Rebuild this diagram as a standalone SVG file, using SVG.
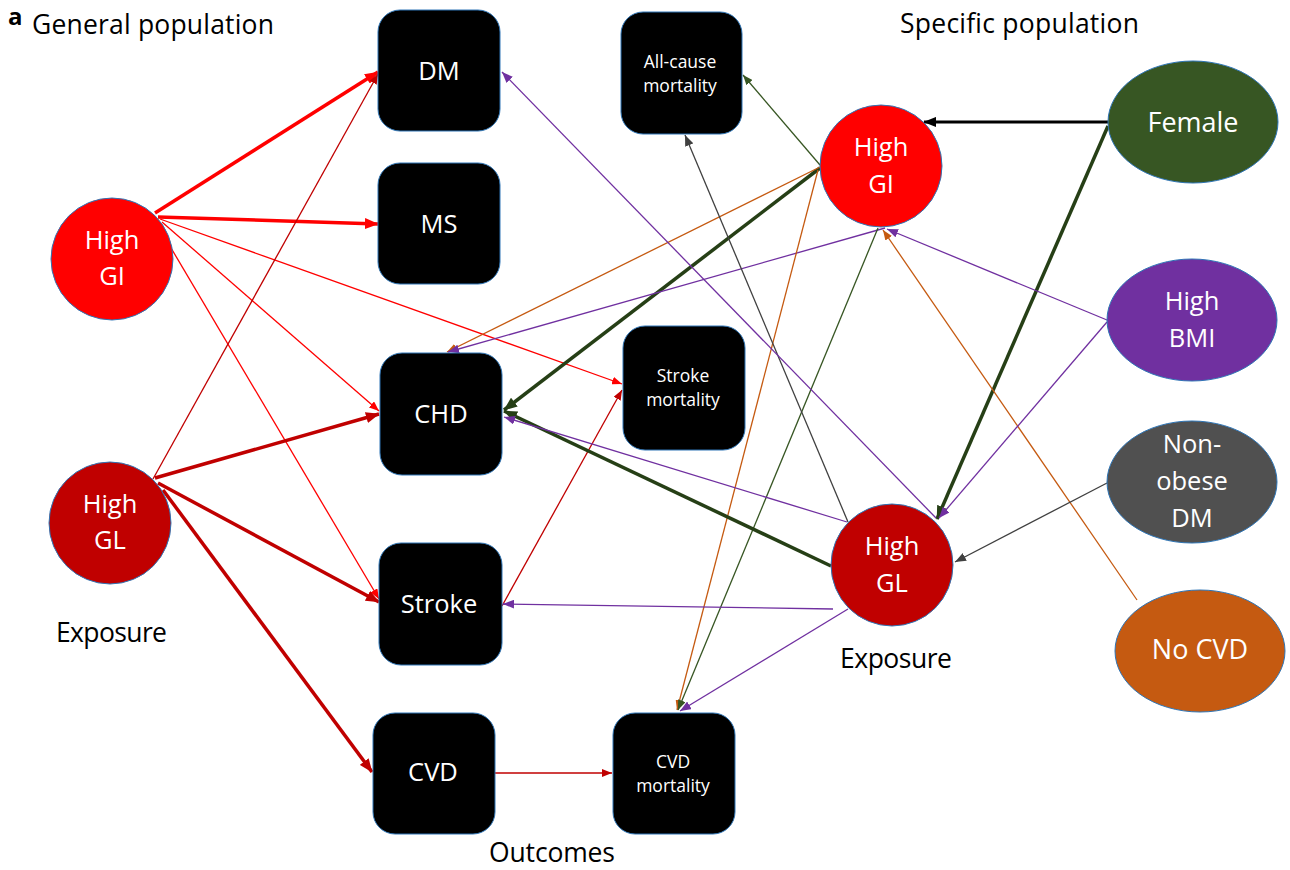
<svg xmlns="http://www.w3.org/2000/svg" width="1290" height="870" viewBox="0 0 1290 870">
<style>
text{font-family:"Open Sans","Liberation Sans",sans-serif}
.title{font-size:26.5px;fill:#000}
.box{fill:#000;stroke:#2E75B6;stroke-width:1}
.node{stroke:#2E75B6;stroke-width:1}
.lbl{fill:#fff;font-size:25.5px;text-anchor:middle}
.sm{fill:#fff;font-size:17.5px;text-anchor:middle}
.cl{fill:#fff;font-size:25.5px;text-anchor:middle}
.c line{fill:none}
.thick{stroke-width:3.5}
.thin{stroke-width:1.3}
.red{stroke:#FF0000}
.dred{stroke:#C00000}
.grn{stroke:#375623}
.grnT{stroke:#263F16}
.pur{stroke:#7030A0}
.org{stroke:#C55A11}
.gry{stroke:#404040}
.blk{stroke:#000}
</style>
<defs>
<marker id="mRedT" viewBox="0 0 10 8" refX="9.5" refY="4" markerUnits="userSpaceOnUse" markerWidth="14" markerHeight="11" orient="auto"><path d="M0,0 L10,4 L0,8 z" fill="#FF0000"/></marker>
<marker id="mRed" viewBox="0 0 10 8" refX="10" refY="4" markerUnits="userSpaceOnUse" markerWidth="10" markerHeight="8" orient="auto"><path d="M0,0 L10,4 L0,8 z" fill="#FF0000"/></marker>
<marker id="mDRedT" viewBox="0 0 10 8" refX="9.5" refY="4" markerUnits="userSpaceOnUse" markerWidth="14" markerHeight="11" orient="auto"><path d="M0,0 L10,4 L0,8 z" fill="#C00000"/></marker>
<marker id="mDRed" viewBox="0 0 10 8" refX="10" refY="4" markerUnits="userSpaceOnUse" markerWidth="10" markerHeight="8" orient="auto"><path d="M0,0 L10,4 L0,8 z" fill="#C00000"/></marker>
<marker id="mGrnT" viewBox="0 0 10 8" refX="9.5" refY="4" markerUnits="userSpaceOnUse" markerWidth="14" markerHeight="11" orient="auto"><path d="M0,0 L10,4 L0,8 z" fill="#263F16"/></marker>
<marker id="mGrn" viewBox="0 0 10 8" refX="10" refY="4" markerUnits="userSpaceOnUse" markerWidth="10" markerHeight="8" orient="auto"><path d="M0,0 L10,4 L0,8 z" fill="#375623"/></marker>
<marker id="mPur" viewBox="0 0 10 8" refX="10" refY="4" markerUnits="userSpaceOnUse" markerWidth="11" markerHeight="9" orient="auto"><path d="M0,0 L10,4 L0,8 z" fill="#7030A0"/></marker>
<marker id="mOrg" viewBox="0 0 10 8" refX="10" refY="4" markerUnits="userSpaceOnUse" markerWidth="10" markerHeight="8" orient="auto"><path d="M0,0 L10,4 L0,8 z" fill="#C55A11"/></marker>
<marker id="mGry" viewBox="0 0 10 8" refX="10" refY="4" markerUnits="userSpaceOnUse" markerWidth="11" markerHeight="9" orient="auto"><path d="M0,0 L10,4 L0,8 z" fill="#404040"/></marker>
<marker id="mBlk" viewBox="0 0 10 8" refX="9.5" refY="4" markerUnits="userSpaceOnUse" markerWidth="13" markerHeight="11" orient="auto"><path d="M0,0 L10,4 L0,8 z" fill="#000"/></marker>
</defs>
<rect width="1290" height="870" fill="#fff"/>

<g id="titles">
<text x="8" y="25" style="font-size:24px;font-weight:bold">a</text>
<text class="title" x="32" y="34" textLength="242">General population</text>
<text class="title" x="900" y="33" textLength="239">Specific population</text>
<text class="title" x="56" y="642" textLength="111">Exposure</text>
<text class="title" x="840" y="668" textLength="112">Exposure</text>
<text class="title" x="489" y="862" textLength="126">Outcomes</text>
</g>

<g id="connectors" class="c">
<line class="thick red" x1="155" y1="213" x2="378" y2="72" marker-end="url(#mRedT)"/>
<line class="thick red" x1="158" y1="217" x2="378" y2="224" marker-end="url(#mRedT)"/>
<line class="thin red" x1="160" y1="219" x2="622" y2="384" marker-end="url(#mRed)"/>
<line class="thin red" x1="162" y1="222" x2="379" y2="411" marker-end="url(#mRed)"/>
<line class="thin red" x1="158" y1="226" x2="379" y2="599" marker-end="url(#mRed)"/>
<line class="thin dred" x1="153" y1="479" x2="378" y2="74" marker-end="url(#mDRed)"/>
<line class="thick dred" x1="155" y1="478" x2="379" y2="414" marker-end="url(#mDRedT)"/>
<line class="thick dred" x1="158" y1="483" x2="379" y2="602" marker-end="url(#mDRedT)"/>
<line class="thick dred" x1="163" y1="490" x2="372" y2="772" marker-end="url(#mDRedT)"/>
<line class="thin dred" x1="502" y1="606" x2="622" y2="390" marker-end="url(#mDRed)"/>
<line class="thin dred" x1="495" y1="773" x2="612" y2="773" marker-end="url(#mDRed)"/>

<line class="blk" style="stroke-width:3" x1="1108" y1="122" x2="924" y2="122" marker-end="url(#mBlk)"/>
<line class="thick grnT" x1="1108" y1="126" x2="937" y2="519" marker-end="url(#mGrnT)"/>
<line class="thin grn" x1="820" y1="165" x2="743" y2="75" marker-end="url(#mGrn)"/>
<line class="thick grnT" x1="820" y1="168" x2="504" y2="410" marker-end="url(#mGrnT)"/>
<line class="thin org" x1="820" y1="167" x2="447" y2="352" marker-end="url(#mOrg)"/>
<line class="thin pur" x1="1107" y1="320" x2="887" y2="229" marker-end="url(#mPur)"/>
<line class="thin org" x1="1137" y1="600" x2="883" y2="230" marker-end="url(#mOrg)"/>
<line class="thin pur" x1="885" y1="228" x2="448" y2="352" marker-end="url(#mPur)"/>
<line class="thin org" x1="818" y1="170" x2="677" y2="710" marker-end="url(#mOrg)"/>
<line class="thin grn" x1="878" y1="228" x2="678" y2="710" marker-end="url(#mGrn)"/>
<line class="thin pur" x1="848" y1="609" x2="680" y2="711" marker-end="url(#mPur)"/>
<line class="thin pur" x1="833" y1="609" x2="503" y2="604" marker-end="url(#mPur)"/>
<line class="thick grnT" x1="831" y1="566" x2="504" y2="411" marker-end="url(#mGrnT)"/>
<line class="thin pur" x1="847" y1="522" x2="504" y2="417" marker-end="url(#mPur)"/>
<line class="thin gry" x1="848" y1="522" x2="685" y2="135" marker-end="url(#mGry)"/>
<line class="thin pur" x1="936" y1="518" x2="502" y2="72" marker-end="url(#mPur)"/>
<line class="thin pur" x1="1107" y1="322" x2="939" y2="518" marker-end="url(#mPur)"/>
<line class="thin gry" x1="1107" y1="483" x2="955" y2="562" marker-end="url(#mGry)"/>
</g>

<g id="n-dm"><rect class="box" x="378" y="10" width="122" height="121" rx="22"/><text class="lbl" x="439" y="80">DM</text></g>
<g id="n-ms"><rect class="box" x="378" y="163" width="122" height="121" rx="22"/><text class="lbl" x="439" y="233">MS</text></g>
<g id="n-chd"><rect class="box" x="380" y="353" width="122" height="122" rx="22"/><text class="lbl" x="441" y="423">CHD</text></g>
<g id="n-stroke"><rect class="box" x="379" y="543" width="123" height="122" rx="22"/><text class="lbl" x="439" y="613">Stroke</text></g>
<g id="n-cvd"><rect class="box" x="373" y="713" width="122" height="121" rx="22"/><text class="lbl" x="433" y="781">CVD</text></g>
<g id="n-allcause"><rect class="box" x="621" y="12" width="121" height="122" rx="22"/><text class="sm" x="680" y="68">All-cause</text><text class="sm" x="680" y="92">mortality</text></g>
<g id="n-strokemort"><rect class="box" x="623" y="326" width="122" height="124" rx="22"/><text class="sm" x="683" y="382">Stroke</text><text class="sm" x="683" y="406">mortality</text></g>
<g id="n-cvdmort"><rect class="box" x="613" y="713" width="122" height="121" rx="22"/><text class="sm" x="673" y="768">CVD</text><text class="sm" x="673" y="792">mortality</text></g>

<g id="n-gi-left"><circle class="node" cx="112" cy="259" r="61" fill="#FF0000"/><text class="cl" x="112" y="249">High</text><text class="cl" x="112" y="285">GI</text></g>
<g id="n-gl-left"><circle class="node" cx="110" cy="523" r="61" fill="#C00000"/><text class="cl" x="110" y="513">High</text><text class="cl" x="110" y="549">GL</text></g>
<g id="n-gi-right"><circle class="node" cx="881" cy="166" r="61" fill="#FF0000"/><text class="cl" x="881" y="156">High</text><text class="cl" x="881" y="193">GI</text></g>
<g id="n-gl-right"><circle class="node" cx="892" cy="565" r="61" fill="#C00000"/><text class="cl" x="892" y="555">High</text><text class="cl" x="892" y="592">GL</text></g>

<g id="n-female"><ellipse class="node" cx="1193" cy="122" rx="85" ry="61" fill="#375623"/><text class="cl" x="1193" y="132" style="font-size:27px">Female</text></g>
<g id="n-bmi"><ellipse class="node" cx="1192" cy="320" rx="85" ry="61" fill="#7030A0"/><text class="cl" x="1192" y="310">High</text><text class="cl" x="1192" y="347">BMI</text></g>
<g id="n-nonobese"><ellipse class="node" cx="1192" cy="482" rx="85" ry="61" fill="#505050"/><text class="cl" x="1192" y="453">Non-</text><text class="cl" x="1192" y="490">obese</text><text class="cl" x="1192" y="527">DM</text></g>
<g id="n-nocvd"><ellipse class="node" cx="1200" cy="651" rx="85" ry="61" fill="#C55A11"/><text class="cl" x="1200" y="659" style="font-size:27px">No CVD</text></g>
</svg>
